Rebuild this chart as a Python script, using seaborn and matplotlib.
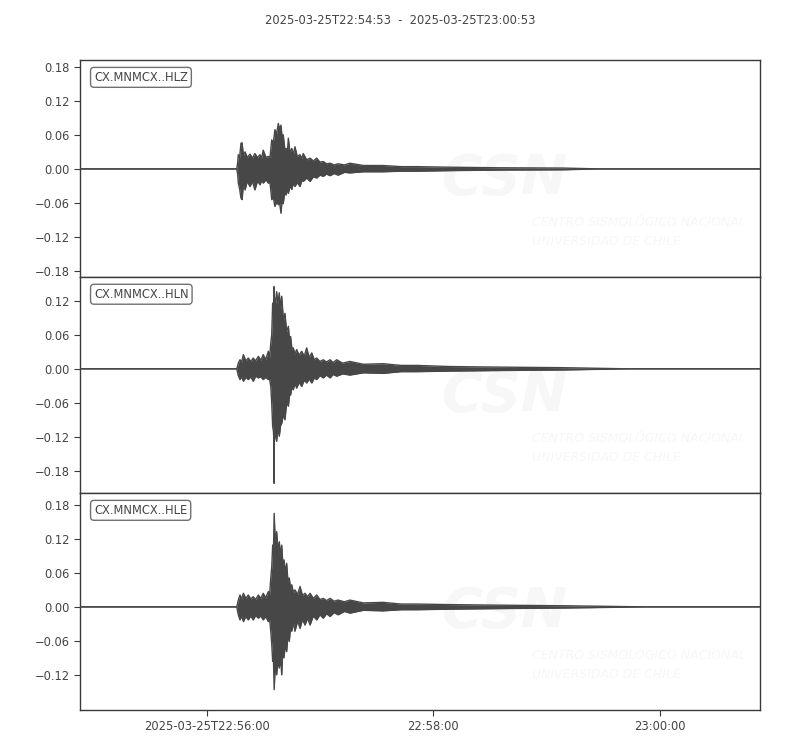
import numpy as np
import pandas as pd
import matplotlib
matplotlib.use("Agg")
import matplotlib.pyplot as plt
import seaborn as sns

# 波形包络（从图上读出，单位：起始时刻后的秒数）
title = "2025-03-25T22:54:53  -  2025-03-25T23:00:53"
channels = ["CX.MNMCX..HLZ", "CX.MNMCX..HLN", "CX.MNMCX..HLE"]

t_hlz = [0, 83.0, 83.5, 83.8, 84.5, 85.2, 85.8, 86.5, 87.4, 88.5, 90.0, 91.3, 92.6, 94.0, 95.3, 96.2,
         97.0, 98.5, 99.7, 100.6, 101.5, 102.3, 103.2, 104.1, 105.0, 105.7, 106.4, 107.0, 107.6, 108.4,
         109.1, 109.8, 110.3, 111.2, 112.1, 113.0, 113.8, 115.0, 116.5, 117.4, 118.2, 120.0, 121.8, 123.5,
         125.3, 127.0, 128.8, 130.5, 132.4, 134.5, 136.6, 140.0, 142.9, 150.0, 160.4, 170.0, 178.4, 195.9,
         222.3, 255.7, 275.3, 360]
up_hlz = [0, 0, 0.012, 0.025, 0.020, 0.045, 0.046, 0.024, 0.030, 0.020, 0.026, 0.019, 0.027, 0.020, 0.025, 0.019,
          0.033, 0.020, 0.022, 0.021, 0.051, 0.045, 0.069, 0.062, 0.080, 0.068, 0.077, 0.055, 0.060, 0.035,
          0.036, 0.030, 0.054, 0.028, 0.036, 0.026, 0.039, 0.022, 0.025, 0.018, 0.027, 0.016, 0.019, 0.014,
          0.019, 0.012, 0.013, 0.009, 0.010, 0.007, 0.009, 0.007, 0.010, 0.006, 0.006, 0.004, 0.004, 0.003,
          0.002, 0.0015, 0, 0]
low_hlz = [0, 0, -0.010, -0.025, -0.035, -0.051, -0.054, -0.028, -0.037, -0.022, -0.031, -0.022, -0.037, -0.021, -0.028, -0.020,
           -0.025, -0.019, -0.025, -0.024, -0.054, -0.050, -0.066, -0.058, -0.063, -0.060, -0.078, -0.055, -0.061, -0.040,
           -0.046, -0.035, -0.043, -0.030, -0.036, -0.025, -0.031, -0.024, -0.031, -0.020, -0.022, -0.016, -0.022, -0.014,
           -0.016, -0.011, -0.013, -0.009, -0.012, -0.008, -0.011, -0.006, -0.007, -0.005, -0.005, -0.004, -0.004, -0.003,
           -0.002, -0.0015, 0, 0]

t_hln = [0, 83.0, 83.8, 84.7, 85.6, 86.5, 87.8, 89.1, 90.4, 91.7, 93.0, 94.4, 95.7, 97.0, 98.3, 99.7,
         100.4, 101.0, 101.5, 102.0, 102.4, 102.7, 102.75, 102.8, 103.4, 104.1, 104.8, 105.5, 106.2, 106.8,
         107.7, 108.5, 109.4, 110.3, 111.0, 111.5, 112.2, 112.9, 113.8, 114.7, 116.0, 117.4, 118.7, 120.0,
         121.3, 122.7, 124.0, 125.3, 127.0, 128.8, 130.5, 132.4, 134.0, 135.9, 139.0, 142.9, 150.0, 160.4,
         170.0, 178.4, 195.9, 222.3, 255.7, 290, 360]
up_hln = [0, 0, 0.010, 0.016, 0.012, 0.025, 0.014, 0.019, 0.013, 0.019, 0.014, 0.022, 0.015, 0.025, 0.016, 0.031,
          0.020, 0.045, 0.060, 0.116, 0.100, 0.145, 0.145, 0.130, 0.110, 0.136, 0.115, 0.134, 0.105, 0.128,
          0.085, 0.098, 0.065, 0.075, 0.048, 0.057, 0.035, 0.037, 0.026, 0.034, 0.024, 0.031, 0.022, 0.037,
          0.020, 0.028, 0.016, 0.019, 0.013, 0.016, 0.012, 0.016, 0.011, 0.016, 0.010, 0.013, 0.008, 0.009,
          0.006, 0.006, 0.004, 0.003, 0.002, 0, 0]
low_hln = [0, 0, -0.012, -0.019, -0.014, -0.022, -0.015, -0.019, -0.014, -0.022, -0.013, -0.016, -0.014, -0.019, -0.015, -0.019,
           -0.018, -0.031, -0.060, -0.102, -0.110, -0.131, -0.202, -0.131, -0.110, -0.128, -0.105, -0.119, -0.100, -0.096,
           -0.080, -0.090, -0.060, -0.066, -0.045, -0.046, -0.032, -0.037, -0.026, -0.034, -0.024, -0.031, -0.020, -0.025,
           -0.018, -0.025, -0.016, -0.019, -0.012, -0.016, -0.011, -0.016, -0.010, -0.013, -0.009, -0.011, -0.007, -0.008,
           -0.005, -0.005, -0.004, -0.003, -0.002, 0, 0]

t_hle = [0, 83.0, 83.8, 84.7, 85.6, 86.5, 87.8, 89.1, 90.4, 91.7, 93.0, 94.4, 95.7, 97.0, 98.3, 99.7,
         100.4, 101.0, 101.5, 102.0, 102.4, 102.8, 103.4, 104.1, 104.8, 105.5, 106.2, 106.8, 107.4, 108.0,
         108.7, 109.4, 110.1, 110.8, 111.5, 112.1, 113.0, 113.8, 115.2, 116.5, 117.8, 119.1, 120.5, 121.8,
         123.5, 125.3, 127.0, 128.8, 130.5, 132.4, 134.5, 136.6, 140.0, 142.9, 150.0, 160.4, 170.0, 178.4,
         195.9, 222.3, 255.7, 300, 360]
up_hle = [0, 0, 0.012, 0.021, 0.014, 0.024, 0.015, 0.021, 0.014, 0.018, 0.013, 0.021, 0.015, 0.024, 0.016, 0.027,
          0.022, 0.051, 0.070, 0.109, 0.095, 0.165, 0.110, 0.133, 0.100, 0.115, 0.090, 0.109, 0.075, 0.083,
          0.060, 0.077, 0.045, 0.051, 0.032, 0.039, 0.025, 0.030, 0.022, 0.036, 0.020, 0.024, 0.018, 0.024,
          0.015, 0.021, 0.013, 0.015, 0.011, 0.015, 0.010, 0.012, 0.009, 0.012, 0.007, 0.008, 0.005, 0.005,
          0.004, 0.003, 0.002, 0, 0]
low_hle = [0, 0, -0.014, -0.023, -0.016, -0.026, -0.017, -0.023, -0.016, -0.023, -0.015, -0.020, -0.016, -0.023, -0.017, -0.026,
           -0.022, -0.043, -0.065, -0.096, -0.090, -0.146, -0.100, -0.120, -0.095, -0.108, -0.090, -0.120, -0.075, -0.090,
           -0.065, -0.079, -0.050, -0.061, -0.035, -0.043, -0.028, -0.043, -0.025, -0.038, -0.022, -0.032, -0.020, -0.032,
           -0.016, -0.023, -0.014, -0.020, -0.012, -0.017, -0.010, -0.014, -0.008, -0.011, -0.006, -0.007, -0.005, -0.005,
           -0.004, -0.003, -0.002, 0, 0]

yticks_all = [[-0.18, -0.12, -0.06, 0.0, 0.06, 0.12, 0.18],
              [-0.18, -0.12, -0.06, 0.0, 0.06, 0.12],
              [-0.12, -0.06, 0.0, 0.06, 0.12, 0.18]]
ylims = [(-0.190, 0.1915), (-0.219, 0.162), (-0.182, 0.201)]

xtick_pos = [67, 187, 307]
xtick_labels = ["2025-03-25T22:56:00", "22:58:00", "23:00:00"]

traces = [(t_hlz, up_hlz, low_hlz), (t_hln, up_hln, low_hln), (t_hle, up_hle, low_hle)]

sns.set_style("ticks")
plt.rcParams['font.family'] = ['DejaVu Sans']

wave_c = "#474747"
text_c = "#444444"
frame_c = "#3a3a3a"
mark_c = "#f7f7f7"

fig = plt.figure(figsize=(8, 7.5), dpi=100)
tops = [0.92, 0.6307, 0.3427]
bottoms = [0.6307, 0.3427, 0.0533]

for i, (tt, up, lo) in enumerate(traces):
    ax = fig.add_axes([0.1, bottoms[i], 0.85, tops[i] - bottoms[i]])
    df = pd.DataFrame({"t": tt, "up": up, "low": lo})

    # 水印
    ax.text(0.625, 0.45, "CSN", transform=ax.transAxes, fontsize=40, fontstyle="italic",
            fontweight="bold", color=mark_c, ha="center", va="center", zorder=0)
    ax.text(0.665, 0.25, "CENTRO SISMOLÓGICO NACIONAL", transform=ax.transAxes, fontsize=9,
            fontstyle="italic", color=mark_c, ha="left", va="center", zorder=0)
    ax.text(0.665, 0.165, "UNIVERSIDAD DE CHILE", transform=ax.transAxes, fontsize=9,
            fontstyle="italic", color=mark_c, ha="left", va="center", zorder=0)

    ax.fill_between(df["t"], df["low"], df["up"], color=wave_c, lw=0, zorder=2)
    sns.lineplot(data=df, x="t", y="up", ax=ax, color=wave_c, lw=1, estimator=None, sort=False, zorder=3)
    sns.lineplot(data=df, x="t", y="low", ax=ax, color=wave_c, lw=1, estimator=None, sort=False, zorder=3)

    ax.set_xlim(0, 360)
    ax.set_ylim(*ylims[i])
    ax.set_yticks(yticks_all[i])
    ax.set_yticklabels([("%.2f" % v).replace("-", "\u2212") if v != 0 else "0.00" for v in yticks_all[i]])
    ax.set_xlabel("")
    ax.set_ylabel("")
    for s in ax.spines.values():
        s.set_color(frame_c)
        s.set_linewidth(1.0)
    ax.tick_params(axis="y", color=frame_c, labelsize=8.3, length=4, labelcolor=text_c)

    ax.text(0.0206, 0.92, channels[i], transform=ax.transAxes, fontsize=8.3, color=text_c,
            ha="left", va="center", zorder=5,
            bbox=dict(boxstyle="round,pad=0.3", fc="white", ec="#707070", lw=1.0))

    if i < 2:
        ax.set_xticks([])
    else:
        ax.set_xticks(xtick_pos)
        ax.set_xticklabels(xtick_labels)
        ax.tick_params(axis="x", labelsize=8.3, labelcolor=text_c, color=frame_c, length=4)

fig.text(0.5, 0.973, title, ha="center", va="center", fontsize=8.3, color=text_c)

fig.savefig("out.png", dpi=100)
